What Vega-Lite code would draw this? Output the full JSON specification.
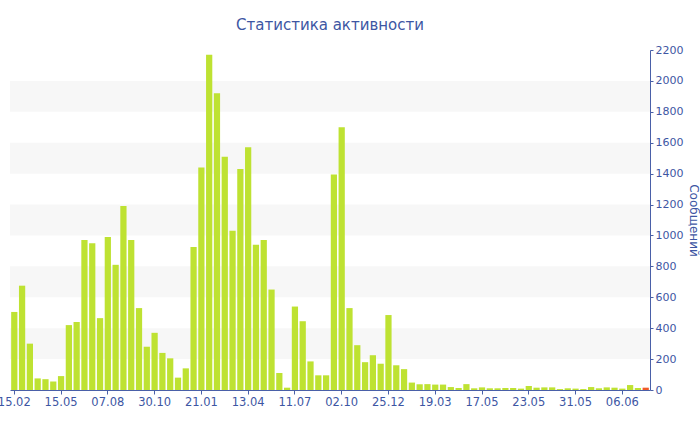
{
  "$schema": "https://vega.github.io/schema/vega-lite/v6.json",
  "width": 640,
  "height": 340,
  "autosize": "none",
  "padding": {"left": 10, "top": 50, "right": 50, "bottom": 40},
  "background": "white",
  "title": {
    "text": "Статистика активности",
    "font": "DejaVu Sans",
    "fontSize": 15,
    "fontWeight": "normal",
    "color": "#3d56a3",
    "offset": 11
  },
  "datasets": {
    "bands": [
      {"lo": 200, "hi": 400},
      {"lo": 600, "hi": 800},
      {"lo": 1000, "hi": 1200},
      {"lo": 1400, "hi": 1600},
      {"lo": 1800, "hi": 2000}
    ],
    "bars": [
      {"date": "15.02.2009", "n": 505, "kind": "done"},
      {"date": "01.03.2009", "n": 675, "kind": "done"},
      {"date": "15.03.2009", "n": 300, "kind": "done"},
      {"date": "29.03.2009", "n": 75, "kind": "done"},
      {"date": "12.04.2009", "n": 70, "kind": "done"},
      {"date": "26.04.2009", "n": 55, "kind": "done"},
      {"date": "15.05.2009", "n": 90, "kind": "done"},
      {"date": "29.05.2009", "n": 420, "kind": "done"},
      {"date": "12.06.2009", "n": 440, "kind": "done"},
      {"date": "26.06.2009", "n": 970, "kind": "done"},
      {"date": "10.07.2009", "n": 950, "kind": "done"},
      {"date": "24.07.2009", "n": 465, "kind": "done"},
      {"date": "07.08.2009", "n": 990, "kind": "done"},
      {"date": "21.08.2009", "n": 810, "kind": "done"},
      {"date": "04.09.2009", "n": 1190, "kind": "done"},
      {"date": "18.09.2009", "n": 970, "kind": "done"},
      {"date": "02.10.2009", "n": 530, "kind": "done"},
      {"date": "16.10.2009", "n": 280, "kind": "done"},
      {"date": "30.10.2009", "n": 370, "kind": "done"},
      {"date": "13.11.2009", "n": 240, "kind": "done"},
      {"date": "27.11.2009", "n": 205, "kind": "done"},
      {"date": "11.12.2009", "n": 80, "kind": "done"},
      {"date": "25.12.2009", "n": 140, "kind": "done"},
      {"date": "08.01.2010", "n": 925, "kind": "done"},
      {"date": "21.01.2010", "n": 1440, "kind": "done"},
      {"date": "04.02.2010", "n": 2170, "kind": "done"},
      {"date": "18.02.2010", "n": 1920, "kind": "done"},
      {"date": "04.03.2010", "n": 1510, "kind": "done"},
      {"date": "18.03.2010", "n": 1030, "kind": "done"},
      {"date": "01.04.2010", "n": 1430, "kind": "done"},
      {"date": "13.04.2010", "n": 1570, "kind": "done"},
      {"date": "27.04.2010", "n": 940, "kind": "done"},
      {"date": "11.05.2010", "n": 970, "kind": "done"},
      {"date": "25.05.2010", "n": 650, "kind": "done"},
      {"date": "08.06.2010", "n": 110, "kind": "done"},
      {"date": "22.06.2010", "n": 15, "kind": "done"},
      {"date": "11.07.2010", "n": 540, "kind": "done"},
      {"date": "25.07.2010", "n": 445, "kind": "done"},
      {"date": "08.08.2010", "n": 185, "kind": "done"},
      {"date": "22.08.2010", "n": 95, "kind": "done"},
      {"date": "05.09.2010", "n": 95, "kind": "done"},
      {"date": "19.09.2010", "n": 1395, "kind": "done"},
      {"date": "02.10.2010", "n": 1700, "kind": "done"},
      {"date": "16.10.2010", "n": 530, "kind": "done"},
      {"date": "30.10.2010", "n": 290, "kind": "done"},
      {"date": "13.11.2010", "n": 180, "kind": "done"},
      {"date": "27.11.2010", "n": 225, "kind": "done"},
      {"date": "11.12.2010", "n": 170, "kind": "done"},
      {"date": "25.12.2010", "n": 485, "kind": "done"},
      {"date": "08.01.2011", "n": 160, "kind": "done"},
      {"date": "22.01.2011", "n": 135, "kind": "done"},
      {"date": "05.02.2011", "n": 48, "kind": "done"},
      {"date": "19.02.2011", "n": 37, "kind": "done"},
      {"date": "05.03.2011", "n": 38, "kind": "done"},
      {"date": "19.03.2011", "n": 35, "kind": "done"},
      {"date": "29.03.2011", "n": 35, "kind": "done"},
      {"date": "08.04.2011", "n": 19, "kind": "done"},
      {"date": "18.04.2011", "n": 13, "kind": "done"},
      {"date": "28.04.2011", "n": 38, "kind": "done"},
      {"date": "08.05.2011", "n": 11, "kind": "done"},
      {"date": "17.05.2011", "n": 17, "kind": "done"},
      {"date": "18.05.2011", "n": 11, "kind": "done"},
      {"date": "19.05.2011", "n": 11, "kind": "done"},
      {"date": "20.05.2011", "n": 13, "kind": "done"},
      {"date": "21.05.2011", "n": 13, "kind": "done"},
      {"date": "22.05.2011", "n": 9, "kind": "done"},
      {"date": "23.05.2011", "n": 26, "kind": "done"},
      {"date": "24.05.2011", "n": 15, "kind": "done"},
      {"date": "25.05.2011", "n": 17, "kind": "done"},
      {"date": "26.05.2011", "n": 17, "kind": "done"},
      {"date": "28.05.2011", "n": 6, "kind": "done"},
      {"date": "30.05.2011", "n": 11, "kind": "done"},
      {"date": "31.05.2011", "n": 9, "kind": "done"},
      {"date": "01.06.2011", "n": 6, "kind": "done"},
      {"date": "02.06.2011", "n": 19, "kind": "done"},
      {"date": "03.06.2011", "n": 11, "kind": "done"},
      {"date": "04.06.2011", "n": 17, "kind": "done"},
      {"date": "05.06.2011", "n": 15, "kind": "done"},
      {"date": "06.06.2011", "n": 9, "kind": "done"},
      {"date": "07.06.2011", "n": 32, "kind": "done"},
      {"date": "08.06.2011", "n": 13, "kind": "done"},
      {"date": "09.06.2011", "n": 15, "kind": "current"}
    ]
  },
  "layer": [
    {
      "data": {"name": "bands"},
      "mark": {"type": "rect", "color": "#f7f7f7"},
      "encoding": {
        "y": {
          "field": "lo",
          "type": "quantitative",
          "scale": {"domain": [0, 2200], "nice": false},
          "axis": {
            "orient": "right",
            "values": [0, 200, 400, 600, 800, 1000, 1200, 1400, 1600, 1800, 2000, 2200],
            "format": "d",
            "title": "Сообщений",
            "titleAngle": 90,
            "titlePadding": 4,
            "titleFontSize": 12,
            "titleFontWeight": "normal",
            "titleColor": "#3d56a3",
            "titleFont": "DejaVu Sans",
            "tickSize": 3,
            "labelPadding": 2,
            "labelFlush": false,
            "labelFontSize": 11
          }
        },
        "y2": {"field": "hi"}
      }
    },
    {
      "data": {"name": "bars"},
      "mark": {"type": "bar"},
      "encoding": {
        "x": {
          "field": "date",
          "type": "ordinal",
          "sort": null,
          "scale": {"paddingInner": 0.2, "paddingOuter": 0.15},
          "axis": {
            "values": ["15.02.2009", "15.05.2009", "07.08.2009", "30.10.2009", "21.01.2010", "13.04.2010", "11.07.2010", "02.10.2010", "25.12.2010", "19.03.2011", "17.05.2011", "23.05.2011", "31.05.2011", "06.06.2011"],
            "labelExpr": "slice(datum.value, 0, 5)",
            "title": null,
            "labelAngle": 0,
            "tickSize": 4,
            "labelPadding": 2
          }
        },
        "y": {
          "field": "n",
          "type": "quantitative",
          "scale": {"domain": [0, 2200], "nice": false},
          "axis": {
            "orient": "right",
            "values": [0, 200, 400, 600, 800, 1000, 1200, 1400, 1600, 1800, 2000, 2200],
            "format": "d",
            "title": "Сообщений",
            "titleAngle": 90,
            "titlePadding": 4,
            "titleFontSize": 12,
            "titleFontWeight": "normal",
            "titleColor": "#3d56a3",
            "titleFont": "DejaVu Sans",
            "tickSize": 3,
            "labelPadding": 2,
            "labelFlush": false,
            "labelFontSize": 11
          }
        },
        "color": {
          "field": "kind",
          "type": "nominal",
          "scale": {"domain": ["done", "current"], "range": ["#bee232", "#f05a28"]},
          "legend": null
        }
      }
    }
  ],
  "config": {
    "view": {"stroke": null},
    "axis": {
      "grid": false,
      "domainColor": "#4a60a8",
      "tickColor": "#4a60a8",
      "labelColor": "#3d56a3",
      "labelFont": "DejaVu Sans",
      "labelFontSize": 11.5
    }
  }
}
